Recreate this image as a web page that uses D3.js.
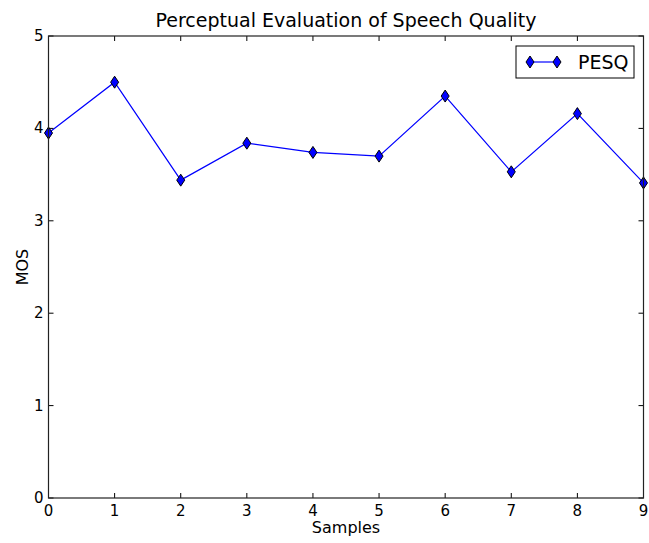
<!DOCTYPE html>
<html><head><meta charset="utf-8">
<script src="https://cdn.jsdelivr.net/npm/d3@7"></script>
<style>body{margin:0;background:#fff}svg{display:block}text{font-family:"DejaVu Sans",sans-serif}</style>
</head><body>
<svg id="c" width="649" height="543"></svg>
<script>
const samples = [0,1,2,3,4,5,6,7,8,9];
const pesq = [3.95,4.50,3.44,3.84,3.74,3.70,4.35,3.53,4.16,3.41];
const xTicks = [0,1,2,3,4,5,6,7,8,9];
const yTicks = [0,1,2,3,4,5];
const seriesName = "PESQ";
const title = "Perceptual Evaluation of Speech Quality";

const svg = d3.select("#c");
const L=48.5,R=643.5,T=36,B=498;
const x = d3.scaleLinear().domain([0,9]).range([L,R]);
const y = d3.scaleLinear().domain([0,5]).range([B,T]);

svg.append("defs").append("clipPath").attr("id","clip").append("rect").attr("x",L-8).attr("y",T).attr("width",R-L+16).attr("height",B-T);

const g = svg.append("g").attr("clip-path","url(#clip)");
g.append("path").datum(samples.map((s,i)=>[s,pesq[i]]))
 .attr("d",d3.line().x(d=>x(d[0])).y(d=>y(d[1])))
 .attr("fill","none").attr("stroke","#0000ff").attr("stroke-width",1.2);
const diamond = "M0,-6L4,0L0,6L-4,0Z";
g.selectAll(".m").data(samples).join("path")
 .attr("d",diamond).attr("transform",(s,i)=>`translate(${x(s)},${y(pesq[i])})`)
 .attr("fill","#0000ff").attr("stroke","#000").attr("stroke-width",1);

const tk = svg.append("g").attr("stroke","#000").attr("stroke-width",1);
xTicks.forEach(t=>{
  tk.append("line").attr("x1",x(t)).attr("x2",x(t)).attr("y1",B).attr("y2",B-5);
  tk.append("line").attr("x1",x(t)).attr("x2",x(t)).attr("y1",T).attr("y2",T+5);
});
yTicks.forEach(t=>{
  tk.append("line").attr("x1",L).attr("x2",L+5).attr("y1",y(t)).attr("y2",y(t));
  tk.append("line").attr("x1",R).attr("x2",R-5).attr("y1",y(t)).attr("y2",y(t));
});
svg.append("rect").attr("x",L).attr("y",T).attr("width",R-L).attr("height",B-T)
 .attr("fill","none").attr("stroke","#222").attr("stroke-width",1.2);

svg.selectAll(".xl").data(xTicks).join("text").attr("x",d=>x(d)).attr("y",B+18)
 .attr("text-anchor","middle").attr("font-size",15).text(d=>d);
svg.selectAll(".yl").data(yTicks).join("text").attr("x",L-5).attr("y",d=>y(d)+5)
 .attr("text-anchor","end").attr("font-size",15).text(d=>d);

svg.append("text").attr("x",(L+R)/2).attr("y",27).attr("text-anchor","middle").attr("font-size",19).text(title);
svg.append("text").attr("x",(L+R)/2).attr("y",533).attr("text-anchor","middle").attr("font-size",16).text("Samples");
svg.append("text").attr("transform",`translate(28,${(T+B)/2}) rotate(-90)`).attr("text-anchor","middle").attr("font-size",16).text("MOS");

const lg = svg.append("g");
lg.append("rect").attr("x",516).attr("y",46).attr("width",118).attr("height",32).attr("fill","#fff").attr("stroke","#000");
lg.append("line").attr("x1",530).attr("x2",557).attr("y1",62).attr("y2",62).attr("stroke","#0000ff").attr("stroke-width",1.2);
[530,557].forEach(px=>lg.append("path").attr("d",diamond).attr("transform",`translate(${px},62)`).attr("fill","#0000ff").attr("stroke","#000"));
lg.append("text").attr("x",578).attr("y",69).attr("font-size",19).text(seriesName);
</script>
</body></html>
